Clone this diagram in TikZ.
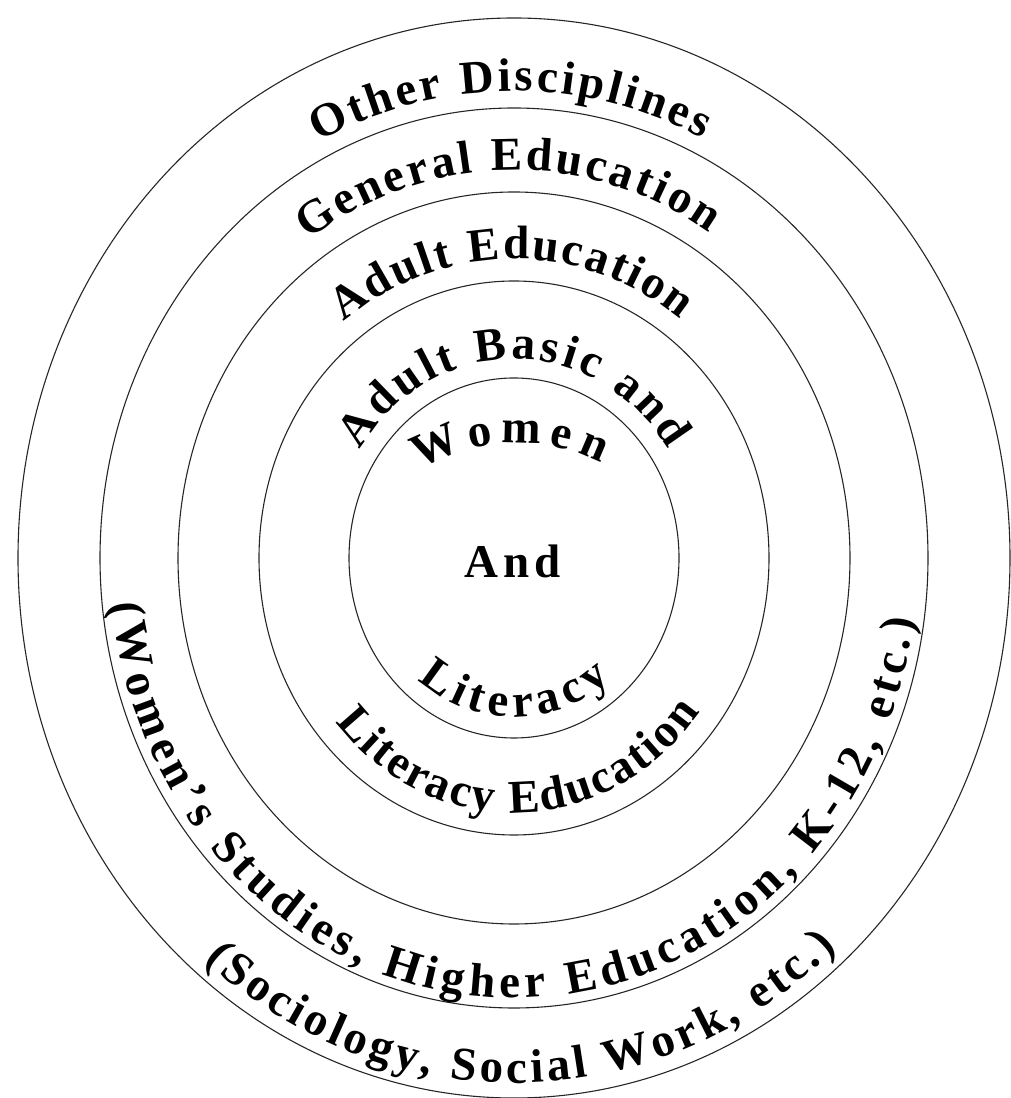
\documentclass[tikz,border=0pt]{standalone}
\usepackage{fontspec}
\setmainfont{Liberation Serif}
\usetikzlibrary{calc, decorations.text}
\newcommand{\ringfont}{\bfseries\fontsize{47}{52}\selectfont}

\begin{document}
\begin{tikzpicture}[x=1pt, y=1pt,
    ring/.style={draw=black!85, line width=1.1pt},
    ringtext/.style={decorate, decoration={text along path, text align=fit to path, text={|\ringfont|#1}}}]
    \useasboundingbox (0,0) rectangle (1010,1098);
    \coordinate (c) at (514,540);
    \coordinate (w) at (516,468);

    % rings, inner to outer
    \draw[ring] (c) ellipse [x radius=165, y radius=180];
    \draw[ring] (c) ellipse [x radius=255, y radius=277];
    \draw[ring] (c) ellipse [x radius=336, y radius=366];
    \draw[ring] (c) ellipse [x radius=414, y radius=450];
    \draw[ring] (c) ellipse [x radius=496, y radius=540];

    % labels over the top
    \path[ringtext={Other Disciplines}] ($(c)+(117:431 and 467)$) arc[start angle=117, end angle=64, x radius=431, y radius=467];
    \path[ringtext={General Education}] ($(c)+(125:358 and 388)$) arc[start angle=125, end angle=57, x radius=358, y radius=388];
    \path[ringtext={Adult Education}] ($(c)+(128:277 and 299)$) arc[start angle=128, end angle=53, x radius=277, y radius=299];
    \path[ringtext={Adult Basic and}] ($(c)+(147:184 and 199)$) arc[start angle=147, end angle=33, x radius=184, y radius=199];
    \path[ringtext={Women}] ($(w)+(121:187)$) arc[start angle=121, end angle=63, radius=187];

    \node[font=\ringfont, anchor=base] (and) at (513,520) {A\hspace{5pt}n\hspace{5pt}d};

    % labels under the bottom
    \path[ringtext={Literacy}] ($(c)+(230:150 and 159)$) arc[start angle=230, end angle=310, x radius=150, y radius=159];
    \path[ringtext={Literacy Education}] ($(c)+(220:233 and 255)$) arc[start angle=220, end angle=323, x radius=233, y radius=255];
    \path[ringtext={(Women’s Studies, Higher Education, K-12, etc.)}] ($(c)+(186:404 and 440)$) arc[start angle=186, end angle=352, x radius=404, y radius=440];
    \path[ringtext={(Sociology, Social Work, etc.)}] ($(c)+(230:482 and 525)$) arc[start angle=230, end angle=312, x radius=482, y radius=525];
\end{tikzpicture}
\end{document}
